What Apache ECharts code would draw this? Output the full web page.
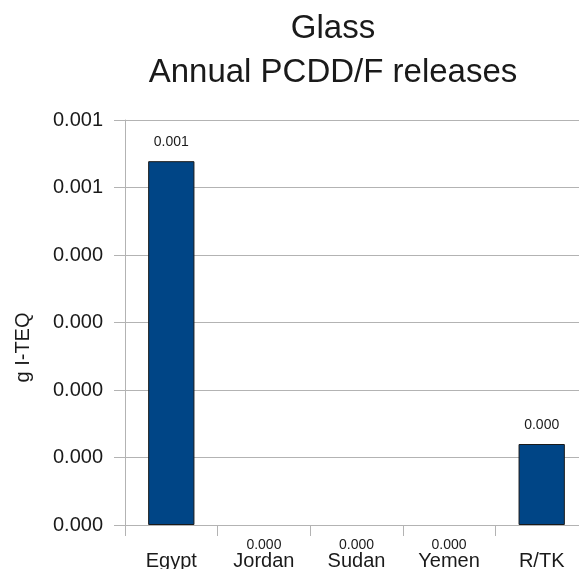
<!DOCTYPE html>
<html>
<head>
<meta charset="utf-8">
<script src="https://cdn.jsdelivr.net/npm/echarts@6/dist/echarts.min.js"></script>
<style>
  html, body { margin: 0; padding: 0; background: #ffffff; }
  #chart { width: 579px; height: 569px; }
</style>
</head>
<body>
<div id="chart"></div>
<script>
// Annual PCDD/F releases from the glass sector, by country (g I-TEQ)
const countries = ['Egypt', 'Jordan', 'Sudan', 'Yemen', 'R/TK'];
const releases = [0.000539, 0, 0, 0, 0.00012];

// value axis: 0 .. 0.0006 in steps of 0.0001, printed with three decimals
const yMin = 0;
const yMax = 0.0006;
const yStep = 0.0001;
const yTickLabels = ['0.000', '0.000', '0.000', '0.000', '0.000', '0.001', '0.001'];

const fontFamily = '"Liberation Sans", Arial, sans-serif';
const textColor = '#1a1a1a';
const lineColor = '#b3b3b3';

const chart = echarts.init(document.getElementById('chart'), null, { renderer: 'canvas' });

// zero-height bars keep their value label, drawn just under the axis
const barData = releases.map(v => v === 0
  ? { value: v, itemStyle: { borderWidth: 0 }, label: { position: 'bottom', distance: 13 } }
  : v);

chart.setOption({
  animation: false,
  backgroundColor: '#ffffff',
  title: {
    text: 'Glass\nAnnual PCDD/F releases',
    left: 328,
    textAlign: 'center',
    top: 2,
    textStyle: {
      fontFamily: fontFamily,
      fontSize: 33,
      fontWeight: 'normal',
      color: textColor,
      lineHeight: 44
    }
  },
  // the plot runs a little past the right edge of the page
  grid: {
    left: 125,
    width: 463,
    top: 120,
    bottom: 44,
    outerBoundsMode: 'none'
  },
  xAxis: {
    type: 'category',
    data: countries,
    boundaryGap: true,
    axisLine: { show: true, lineStyle: { color: lineColor, width: 1 } },
    axisTick: { show: true, length: 11, lineStyle: { color: lineColor } },
    axisLabel: {
      margin: 26,
      fontFamily: fontFamily,
      fontSize: 20,
      color: textColor,
      interval: 0
    },
    splitLine: { show: false }
  },
  yAxis: {
    type: 'value',
    min: yMin,
    max: yMax,
    interval: yStep,
    name: 'g I-TEQ',
    nameLocation: 'middle',
    nameGap: 92,
    nameRotate: 90,
    nameTextStyle: {
      fontFamily: fontFamily,
      fontSize: 20,
      color: textColor,
      padding: [0, 50, 0, 0]
    },
    axisLine: { show: true, lineStyle: { color: lineColor, width: 1 } },
    axisTick: { show: true, length: 11, lineStyle: { color: lineColor } },
    axisLabel: {
      margin: 22,
      fontFamily: fontFamily,
      fontSize: 20,
      color: textColor,
      formatter: function (value) {
        const i = Math.round((value - yMin) / yStep);
        return yTickLabels[i] !== undefined ? yTickLabels[i] : value.toFixed(3);
      }
    },
    splitLine: { show: true, lineStyle: { color: lineColor, width: 1 } }
  },
  series: [{
    type: 'bar',
    data: barData,
    barWidth: '50%',
    itemStyle: {
      color: '#004586',
      borderColor: '#1a1a1a',
      borderWidth: 1
    },
    label: {
      show: true,
      position: 'top',
      distance: 12,
      fontFamily: fontFamily,
      fontSize: 14,
      color: textColor,
      formatter: function (p) { return p.value.toFixed(3); }
    }
  }]
});
</script>
</body>
</html>
